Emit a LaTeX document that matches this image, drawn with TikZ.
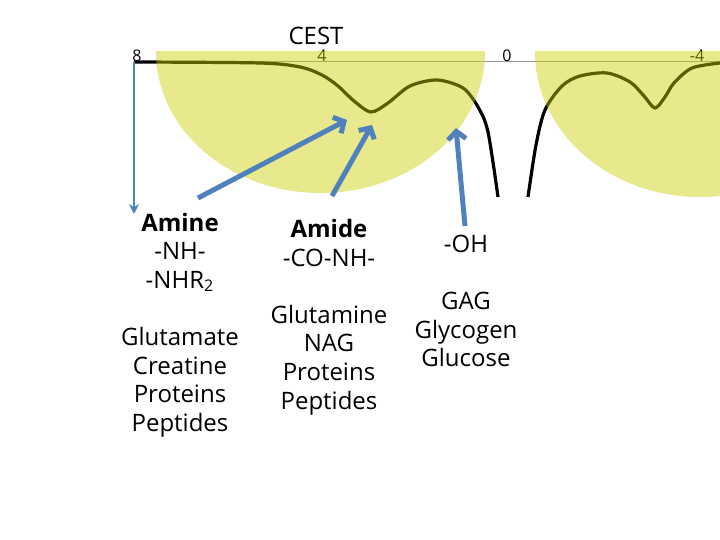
\documentclass[tikz,border=0pt]{standalone}
\usepackage{fontspec}
\setmainfont{Open Sans}
\usetikzlibrary{arrows.meta,positioning}
\definecolor{peakfill}{RGB}{204,204,0}
\definecolor{arrowblue}{HTML}{4F81BD}
\definecolor{axisgray}{HTML}{9A9A9A}

\begin{document}
\begin{tikzpicture}[
  x=0.5pt, y=-0.5pt,
  group/.style={font=\fontsize{12}{14.3}\selectfont, align=center, inner sep=0pt},
  tick/.style={font=\fontsize{8}{9}\selectfont, inner sep=0pt},
  pointer/.style={arrowblue, line width=2.5pt, -{Straight Barb[length=4pt,width=9pt]}},
  peak/.style={fill=peakfill, fill opacity=0.45}
]
\useasboundingbox (0,0) rectangle (720,540);

% ppm axis and z-spectrum
\coordinate (ppm8) at (134,62);
\coordinate (axisend) at (720,62);
\draw[axisgray, line width=0.5pt] (ppm8) -- (axisend);
\draw[black, line width=1.6pt] plot[smooth, tension=0.5] coordinates {
  (134,62) (260,63) (300,67) (322,75) (338,86) (354,101) (371,112)
  (388,103) (410,86) (437,80) (463,88) (478,107) (488,132) (498,197)};
\draw[black, line width=1.6pt] plot[smooth, tension=0.5] coordinates {
  (528,197) (536,145) (545,110) (562,86) (580,76) (607,73) (630,82)
  (644,96) (655,108) (665,97) (674,83) (692,68) (720,63)};

\node[tick] (t8) at (137,56) {8};
\node[tick] (t4) at (322,56) {4};
\node[tick] (t0) at (507,56) {0};
\node[tick] (tm4) at (697,56) {-4};
\node[font=\fontsize{12}{14}\selectfont, inner sep=0pt] (cest) at (316,36) {CEST};

% shaded exchange regions
\begin{scope}
  \clip (0,52) rectangle (720,540);
  \fill[peak] (320.5,52) ellipse [x radius=164.5, y radius=141];
  \fill[peak] (700,52) ellipse [x radius=165, y radius=145];
\end{scope}

% pool labels
\node[group] (amine) at (180,325) {\textbf{Amine}\\-NH-\\-NHR\textsubscript{2}\\[14.3pt]Glutamate\\Creatine\\Proteins\\Peptides};
\node[group] (amide) at (329,317) {\textbf{Amide}\\-CO-NH-\\[14.3pt]Glutamine\\NAG\\Proteins\\Peptides};
\node[group] (hydroxyl) at (466,301) {-OH\\[14.3pt]GAG\\Glycogen\\Glucose};

% pointers
\coordinate (amine tip) at (347,120);
\coordinate (amine tail) at (198,198);
\coordinate (amide tip) at (372,125);
\coordinate (amide tail) at (332,196);
\coordinate (oh tip) at (456,128);
\coordinate (oh tail) at (465,226);
\coordinate (sat end) at (134,214);

\draw[pointer] (amine tail) -- (amine tip);
\draw[pointer] (amide tail) -- (amide tip);
\draw[pointer] (oh tail) -- (oh tip);
\draw[arrowblue, line width=0.8pt, -{Stealth[length=5pt,width=5pt]}] (ppm8) -- (sat end);

\end{tikzpicture}
\end{document}
